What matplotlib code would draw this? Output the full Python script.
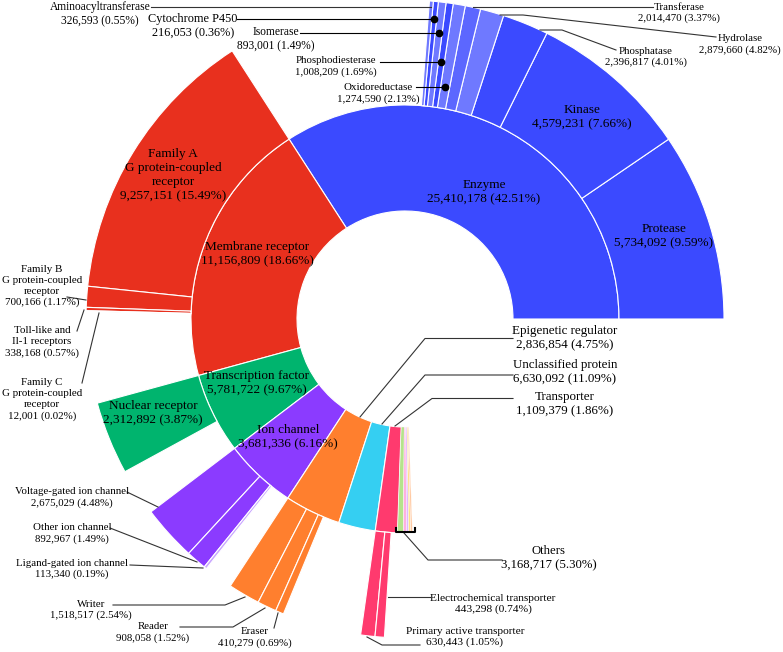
import numpy as np
import matplotlib.pyplot as plt
from matplotlib.patches import Wedge

plt.rcParams['font.family'] = ['Liberation Serif', 'DejaVu Serif']

# ---- data (compound counts and shares) ----
inner_names = ['Enzyme', 'Membrane receptor', 'Transcription factor', 'Ion channel',
               'Epigenetic regulator', 'Unclassified protein', 'Transporter', 'Others']
inner_counts = [25410178, 11156809, 5781722, 3681336, 2836854, 6630092, 1109379, 3168717]
inner_pcts = [42.51, 18.66, 9.67, 6.16, 4.75, 11.09, 1.86, 5.30]

enzyme_names = ['Protease', 'Kinase', 'Phosphatase', 'Hydrolase', 'Transferase',
                'Oxidoreductase', 'Phosphodiesterase', 'Isomerase', 'Cytochrome P450',
                'Aminoacyltransferase']
enzyme_counts = [5734092, 4579231, 2396817, 2879660, 2014470, 1274590, 1008209, 893001,
                 216053, 326593]
enzyme_pcts = [9.59, 7.66, 4.01, 4.82, 3.37, 2.13, 1.69, 1.49, 0.36, 0.55]

membrane_names = ['Family A\nG protein-coupled\nreceptor', 'Family B\nG protein-coupled\nreceptor',
                  'Toll-like and\nIl-1 receptors', 'Family C\nG protein-coupled\nreceptor']
membrane_counts = [9257151, 700166, 338168, 12001]
membrane_pcts = [15.49, 1.17, 0.57, 0.02]

tf_names = ['Nuclear receptor']
tf_counts = [2312892]
tf_pcts = [3.87]

ion_names = ['Voltage-gated ion channel', 'Other ion channel', 'Ligand-gated ion channel']
ion_counts = [2675029, 892967, 113340]
ion_pcts = [4.48, 1.49, 0.19]

epi_names = ['Writer', 'Reader', 'Eraser']
epi_counts = [1518517, 908058, 410279]
epi_pcts = [2.54, 1.52, 0.69]

transp_names = ['Primary active transporter', 'Electrochemical transporter']
transp_counts = [630443, 443298]
transp_pcts = [1.05, 0.74]

# unlabelled slivers inside "Others" (estimated)
others_pcts = [2.1, 1.1, 0.8, 0.7, 0.6]

# ---- layout: the figure does not draw angles in proportion, spans ----
inner_span = [122.8, 72.5, 21.9, 19.6, 15.2, 10.0, 6.0, 4.0]
enzyme_span = [34.3, 29.3, 8.4, 4.3, 2.8, 2.2, 1.3, 1.4, 0.9, 0.7]
membrane_span = [51.3, 3.8, 0.6, 0.15]
tf_span = [13.3]
ion_span = [10.1, 3.7, 0.5]
epi_span = [5.8, 3.5, 1.5]
transp_span = [2.6, 1.7]

CX, CY = 405, 319
R0, R1, R2 = 108, 214, 319

BLUE, LBLUE, MBLUE = '#3b4aff', '#6f79ff', '#5c67ff'
RED, GREEN, PURPLE = '#e8301e', '#00b46e', '#8b3bff'
ORANGE, CYAN, PINK = '#ff7f2e', '#35cff2', '#ff3a6e'
inner_colors = [BLUE, RED, GREEN, PURPLE, ORANGE, CYAN, PINK, None]
others_colors = ['#b5e38c', '#ffb0e0', '#e0b8ff', '#ffe08a', '#ffc8a0']
enzyme_colors = [BLUE, BLUE, BLUE, LBLUE, MBLUE, LBLUE, BLUE, LBLUE, BLUE, LBLUE]


def ring(ax, start, spans, colors, r_in, r_out, lw=0.8):
    edges = start + np.concatenate([[0], np.cumsum(spans)])
    for a0, a1, c in zip(edges[:-1], edges[1:], colors):
        # y axis runs downward, so angles are mirrored
        ax.add_patch(Wedge((CX, CY), r_out, -a1, -a0, width=r_out - r_in,
                           facecolor=c, edgecolor='white', lw=lw))
    return edges


def label(name, count, pct):
    return '%s\n%s (%.2f%%)' % (name, format(count, ','), pct)


fig = plt.figure(figsize=(7.83, 6.52), dpi=100)
ax = fig.add_axes([0, 0, 1, 1])
ax.set_xlim(0, 783)
ax.set_ylim(652, 0)
ax.axis('off')

# inner ring
inner_edges = ring(ax, 0, inner_span[:-1], inner_colors[:-1], R0, R1)
others_span = np.array(others_pcts) / sum(others_pcts) * inner_span[-1]
ring(ax, inner_edges[-1], others_span, others_colors, R0, R1, lw=0.3)

# outer ring, each group starts where its parent starts
enz_edges = ring(ax, inner_edges[0], enzyme_span, enzyme_colors, R1, R2)
ring(ax, inner_edges[1], membrane_span, [RED, RED, RED, '#f6a494'], R1, R2)
ring(ax, inner_edges[2], tf_span, [GREEN], R1, R2)
ring(ax, inner_edges[3], ion_span, [PURPLE, PURPLE, '#c9a6ff'], R1, R2)
ring(ax, inner_edges[4], epi_span, [ORANGE] * 3, R1, R2)
ring(ax, inner_edges[6], transp_span, [PINK, PINK], R1, R2)

# labels inside the wedges
big = 9.5
inside = [(0, 484, 192), (1, 257, 254), (2, 257, 383), (3, 288, 437)]
for i, x, y in inside:
    ax.text(x, y, label(inner_names[i], inner_counts[i], inner_pcts[i]),
            ha='center', va='center', fontsize=big, linespacing=1.3)
ax.text(173, 175, label(membrane_names[0], membrane_counts[0], membrane_pcts[0]),
        ha='center', va='center', fontsize=big, linespacing=1.25)
ax.text(582, 117, label(enzyme_names[1], enzyme_counts[1], enzyme_pcts[1]),
        ha='center', va='center', fontsize=big, linespacing=1.3)
ax.text(664, 236, label(enzyme_names[0], enzyme_counts[0], enzyme_pcts[0]),
        ha='center', va='center', fontsize=big, linespacing=1.3)
ax.text(153, 413, label(tf_names[0], tf_counts[0], tf_pcts[0]),
        ha='center', va='center', fontsize=big, linespacing=1.3)

# labels outside with leader lines
lc = '#333333'
outside = [
    (label(enzyme_names[9], enzyme_counts[9], enzyme_pcts[9]), 100, 14, 8.3, [(151, 7), (431, 7)]),
    (label(enzyme_names[8], enzyme_counts[8], enzyme_pcts[8]), 193, 26, 8.8, None),
    (label(enzyme_names[7], enzyme_counts[7], enzyme_pcts[7]), 276, 39.5, 8.3, None),
    (label(enzyme_names[6], enzyme_counts[6], enzyme_pcts[6]), 336, 66.5, 7.8, None),
    (label(enzyme_names[5], enzyme_counts[5], enzyme_pcts[5]), 378, 93.5, 7.9, None),
    (label(enzyme_names[4], enzyme_counts[4], enzyme_pcts[4]), 679, 13, 7.8, [(473, 7), (653, 7)]),
    (label(enzyme_names[3], enzyme_counts[3], enzyme_pcts[3]), 740, 44.5, 7.8,
     [(500, 15), (523, 15), (716, 37)]),
    (label(enzyme_names[2], enzyme_counts[2], enzyme_pcts[2]), 646, 57, 7.8,
     [(540, 30), (562, 30), (616, 50)]),
    (label(membrane_names[1], membrane_counts[1], membrane_pcts[1]), 42, 286, 7.9, [(67, 297), (86, 300)]),
    (label(membrane_names[2], membrane_counts[2], membrane_pcts[2]), 42, 342, 7.9, [(77, 331), (84, 310)]),
    (label(membrane_names[3], membrane_counts[3], membrane_pcts[3]), 42, 399.5, 7.9, [(82, 383), (99, 313)]),
    (label(ion_names[0], ion_counts[0], ion_pcts[0]), 72, 497.5, 7.8, [(127, 492), (158, 507)]),
    (label(ion_names[1], ion_counts[1], ion_pcts[1]), 72, 533.5, 7.8, [(110, 528), (197, 562)]),
    (label(ion_names[2], ion_counts[2], ion_pcts[2]), 72, 569, 7.8, [(130, 565), (203, 568)]),
    (label(epi_names[0], epi_counts[0], epi_pcts[0]), 91, 610, 7.8, [(113, 605), (225, 605), (245, 597)]),
    (label(epi_names[1], epi_counts[1], epi_pcts[1]), 153, 632.5, 7.8, [(180, 627), (233, 627), (265, 608)]),
    (label(epi_names[2], epi_counts[2], epi_pcts[2]), 255, 637.5, 7.8, [(274, 628), (278, 613)]),
    (label(inner_names[4], inner_counts[4], inner_pcts[4]), 565, 338, 9.4,
     [(360, 417), (425, 338.5), (513, 338.5)]),
    (label(inner_names[5], inner_counts[5], inner_pcts[5]), 565, 372.5, 9.4,
     [(382, 424), (425, 375), (513, 375)]),
    (label(inner_names[6], inner_counts[6], inner_pcts[6]), 565, 404.5, 9.4,
     [(395, 426), (432, 398.5), (513, 398.5)]),
    (label(inner_names[7], inner_counts[7], inner_pcts[7]), 549, 558, 9.2,
     [(404, 533), (428, 560), (502, 560)]),
    (label(transp_names[1], transp_counts[1], transp_pcts[1]), 493, 604, 8.2, [(388, 597), (430, 597)]),
    (label(transp_names[0], transp_counts[0], transp_pcts[0]), 465, 637, 8.2,
     [(367, 637), (382, 645), (420, 645)]),
]
for text, x, y, fs, pts in outside:
    ax.text(x, y, text, ha='center', va='center', fontsize=fs, linespacing=1.28)
    if pts:
        xs, ys = zip(*pts)
        ax.plot(xs, ys, color=lc, lw=0.8)

# dotted leaders for the narrow enzyme wedges: dot sits on the wedge at the line's height
dot_rows = [(8, 237, 19), (7, 300, 33), (6, 380, 61.5), (5, 416, 87)]
for i, x_text, y in dot_rows:
    mid = np.radians((enz_edges[i] + enz_edges[i + 1]) / 2)
    r = (CY - y) / np.sin(mid)
    xd = CX + r * np.cos(mid)
    ax.plot([x_text, xd], [y, y], color='black', lw=0.8)
    ax.plot(xd, y, 'o', color='black', ms=4.5)

# bracket under the "Others" slivers
ax.plot([396, 396, 415, 415], [528, 532, 532, 528], color='black', lw=1.5)

fig.savefig('out.png', dpi=100)
